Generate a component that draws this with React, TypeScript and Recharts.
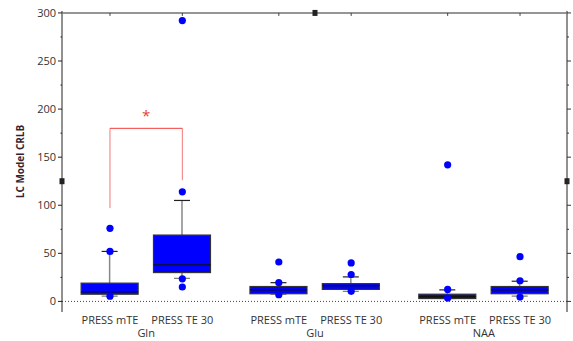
import {
  ComposedChart,
  Bar,
  Scatter,
  XAxis,
  YAxis,
  ReferenceLine,
  ReferenceDot,
} from "recharts";

// groups and the two sequences inside each group
const groups = ["Gln", "Glu", "NAA"];
const sequences = ["PRESS mTE", "PRESS TE 30"];

// box statistics, order: Gln mTE, Gln TE30, Glu mTE, Glu TE30, NAA mTE, NAA TE30
const boxMin = [5.5, 24, 7.5, 10.5, 3, 5.5];
const boxQ1 = [7.5, 30, 8, 12.5, 3, 8];
const boxMedian = [10, 38, 12, 16.5, 5, 12];
const boxQ3 = [19, 69, 15.5, 18.5, 7.5, 15.5];
const boxMax = [52, 105, 19.5, 25.5, 12, 21];

// individual points drawn on each box
const pointValues = [
  [5.5, 52, 76],
  [15, 23.5, 114, 292],
  [7, 19.5, 41],
  [10.5, 28, 40],
  [3.5, 12.5, 142],
  [4.5, 21.5, 46.5],
];

const yTicks = [0, 25, 50, 75, 100, 125, 150, 175, 200, 225, 250, 275, 300];

// significance bracket between Gln mTE and Gln TE30
const bracketLeftBottom = 97;
const bracketTop = 180;
const bracketRightBottom = 126;
const starValue = 196;
const axisBreakValue = 125;
const axisTop = 300;

const GROUP_STEP = 7 / 3;
const X_DOMAIN: [number, number] = [-0.663, 6.316];
const Y_DOMAIN: [number, number] = [-11, 302];
const FONT = "'Open Sans', 'DejaVu Sans', sans-serif";

const pos = (g: number, i: number) => g * GROUP_STEP + i;

const boxes = groups.flatMap((g, gi) =>
  sequences.map((s, si) => {
    const k = gi * sequences.length + si;
    return {
      x: pos(gi, si),
      label: s,
      min: boxMin[k],
      q1: boxQ1[k],
      median: boxMedian[k],
      q3: boxQ3[k],
      max: boxMax[k],
    };
  })
);

const points = boxes.flatMap((b, k) => pointValues[k].map((v) => ({ x: b.x, y: v })));

// the frame line along the top of the plot, from one end of the x domain to the other
const topBorder = X_DOMAIN.map((x) => ({ x, y: axisTop }));

const tickLabels = new Map<number, { text: string; group: boolean }>();
boxes.forEach((b) => tickLabels.set(b.x, { text: b.label, group: false }));
groups.forEach((g, gi) => tickLabels.set(pos(gi, 0.5), { text: g, group: true }));
const xTicks = [...tickLabels.keys()].sort((a, b) => a - b);

function BoxShape(props: any) {
  const { x, y, width, height, payload } = props;
  if (x == null || y == null) return null;
  const cx = x + width / 2;
  const top = Math.min(y, y + height);
  const h = Math.abs(height);
  const unit = h / (payload.q3 - payload.q1);
  const yOf = (v: number) => top + h - (v - payload.q1) * unit;
  const bw = 57;
  const cap = 16;
  return (
    <g>
      <line x1={cx} x2={cx} y1={yOf(payload.q3)} y2={yOf(payload.max)} stroke="#888" strokeWidth={1.5} />
      <line x1={cx} x2={cx} y1={yOf(payload.q1)} y2={yOf(payload.min)} stroke="#888" strokeWidth={1.5} />
      <line x1={cx - cap / 2} x2={cx + cap / 2} y1={yOf(payload.max)} y2={yOf(payload.max)} stroke="#222" strokeWidth={1.2} />
      <line x1={cx - cap / 2} x2={cx + cap / 2} y1={yOf(payload.min)} y2={yOf(payload.min)} stroke="#777" strokeWidth={1.2} />
      <rect x={cx - bw / 2} y={top} width={bw} height={h} fill="#0000ff" stroke="#333" strokeWidth={1.2} />
      <line x1={cx - bw / 2} x2={cx + bw / 2} y1={yOf(payload.median)} y2={yOf(payload.median)} stroke="#111" strokeWidth={1.2} />
    </g>
  );
}

function Dot(props: any) {
  const { cx, cy } = props;
  if (cx == null || cy == null) return null;
  return <circle cx={cx} cy={cy} r={3.6} fill="#0000ff" />;
}

const NoDot = () => <g />;

function LeftTick(props: any) {
  const { x, y, payload } = props;
  const major = payload.value % 50 === 0;
  return (
    <g>
      <line x1={x - (major ? 4 : 1.5)} x2={x} y1={y} y2={y} stroke="#222" />
      {major && (
        <text x={x - 6} y={y + 4} textAnchor="end" fontSize={11} fontFamily={FONT} fill="#333">
          {payload.value}
        </text>
      )}
    </g>
  );
}

function RightTick(props: any) {
  const { x, y, payload } = props;
  const major = payload.value % 50 === 0;
  return <line x1={x} x2={x + (major ? 4 : 2)} y1={y} y2={y} stroke="#333" />;
}

function BottomTick(props: any) {
  const { x, y, payload } = props;
  const info = tickLabels.get(payload.value);
  if (!info) return null;
  return (
    <text
      x={x}
      y={y + (info.group ? 25 : 12)}
      textAnchor="middle"
      fontSize={11}
      fontFamily={FONT}
      fill="#333"
    >
      {info.text}
    </text>
  );
}

const square = (p: any) =>
  p.cx == null ? <g /> : <rect x={p.cx - 2.5} y={p.cy - 3} width={5} height={6} fill="#222" />;

const topTick = (p: any) =>
  p.cx == null ? <g /> : <rect x={p.cx - 0.5} y={p.cy} width={1} height={3} fill="#444" />;

export default function App() {
  return (
    <div style={{ position: "absolute", left: 0, top: 0, width: 573, height: 341, background: "#fff" }}>
      <ComposedChart
        width={573}
        height={341}
        data={boxes}
        margin={{ top: 11, right: 5, bottom: 4, left: 0 }}
      >
        <XAxis
          dataKey="x"
          type="number"
          domain={X_DOMAIN}
          ticks={xTicks}
          allowDataOverflow
          axisLine={false}
          tickLine={false}
          tickSize={0}
          tickMargin={0}
          tick={<BottomTick />}
          height={25}
          interval={0}
        />
        <YAxis
          type="number"
          domain={Y_DOMAIN}
          ticks={yTicks}
          allowDataOverflow
          width={62}
          interval={0}
          tickLine={false}
          tickSize={0}
          tickMargin={0}
          axisLine={{ stroke: "#222" }}
          tick={<LeftTick />}
          label={{
            value: "LC Model CRLB",
            angle: -90,
            position: "insideLeft",
            offset: 20,
            style: { fontSize: 10, fontWeight: 700, fontFamily: FONT, fill: "#3a1f33", textAnchor: "middle" },
          }}
        />
        <YAxis
          yAxisId="right"
          orientation="right"
          type="number"
          domain={Y_DOMAIN}
          ticks={yTicks}
          allowDataOverflow
          width={1}
          interval={0}
          tickLine={false}
          tickSize={0}
          tickMargin={0}
          axisLine={{ stroke: "#222" }}
          tick={<RightTick />}
        />
        <ReferenceLine y={0} stroke="#444" strokeDasharray="1 2" />
        <Scatter
          data={topBorder}
          dataKey="y"
          line={{ stroke: "#727272", strokeWidth: 1.5 }}
          shape={<NoDot />}
          isAnimationActive={false}
        />
        {boxes.map((b) => (
          <ReferenceDot key={b.x} x={b.x} y={axisTop} ifOverflow="visible" shape={topTick} />
        ))}
        <Bar
          dataKey={(d: any) => [d.q1, d.q3]}
          shape={<BoxShape />}
          barSize={57}
          isAnimationActive={false}
        />
        <Scatter data={points} dataKey="y" shape={<Dot />} isAnimationActive={false} />
        <ReferenceLine
          segment={[
            { x: pos(0, 0), y: bracketLeftBottom },
            { x: pos(0, 0), y: bracketTop },
          ]}
          stroke="#f27a7a"
        />
        <ReferenceLine
          segment={[
            { x: pos(0, 1), y: bracketRightBottom },
            { x: pos(0, 1), y: bracketTop },
          ]}
          stroke="#f27a7a"
        />
        <ReferenceLine
          segment={[
            { x: pos(0, 0), y: bracketTop },
            { x: pos(0, 1), y: bracketTop },
          ]}
          stroke="#ee3b3b"
        />
        <ReferenceDot
          x={pos(0, 0.5)}
          y={starValue}
          r={0}
          shape={(p: any) => (
            <text x={p.cx} y={p.cy + 8} textAnchor="middle" fontSize={15} fontFamily={FONT} fill="#e84040">
              *
            </text>
          )}
        />
        <ReferenceDot x={X_DOMAIN[0]} y={axisBreakValue} ifOverflow="visible" shape={square} />
        <ReferenceDot x={X_DOMAIN[1]} y={axisBreakValue} ifOverflow="visible" shape={square} />
        <ReferenceDot x={pos(1, 0.5)} y={axisTop} ifOverflow="visible" shape={square} />
      </ComposedChart>
    </div>
  );
}
